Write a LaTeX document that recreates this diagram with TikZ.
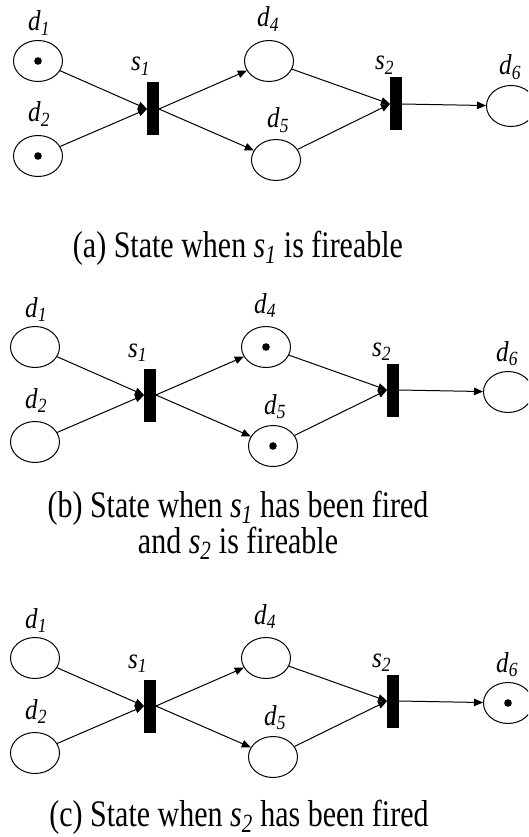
\documentclass[tikz,border=0pt]{standalone}
\usepackage{fontspec}
\setmainfont{Liberation Serif}
\usetikzlibrary{shapes.geometric,arrows.meta}
\tikzset{
 place/.style={ellipse, draw, line width=1pt, minimum width=49pt, minimum height=41pt, inner sep=0pt},
 trans/.style={rectangle, fill=black, minimum width=11.5pt, minimum height=53pt, inner sep=0pt},
 arc/.style={line width=1pt, -{Triangle[length=9pt,width=7.5pt]}},
 lbl/.style={anchor=base west, inner sep=0pt, font=\fontsize{25}{30}\selectfont},
 captext/.style={anchor=base, inner sep=0pt, font=\fontsize{30}{33}\selectfont},
}
\newcommand{\dlab}[1]{\scalebox{1}[1.15]{\textit{d}\textsubscript{\textit{#1}}}}
\newcommand{\slab}[1]{\textit{s}\textsubscript{\textit{#1}}}
\newcommand{\cslab}[1]{\textit{s}\smash{\textsubscript{\textit{#1}}}}
\newcommand{\stretchtext}[1]{\scalebox{1}[1.25]{#1}}
\newcommand{\PetriPanel}[1]{%
 \node[place] (#1d1) at (38,61) {};
 \node[place] (#1d2) at (38,156) {};
 \node[trans] (#1s1) at (153,109) {};
 \node[place] (#1d4) at (269,61) {};
 \node[place] (#1d5) at (276,160) {};
 \node[trans] (#1s2) at (396,104) {};
 \node[place] (#1d6) at (511,106) {};
 \node[lbl] (#1l1) at (28,31) {\dlab{1}};
 \node[lbl] (#1l2) at (28,122) {\dlab{2}};
 \node[lbl] (#1l3) at (131,71) {\scalebox{1}[1.15]{\slab{1}}};
 \node[lbl] (#1l4) at (257,27) {\dlab{4}};
 \node[lbl] (#1l5) at (267,128) {\dlab{5}};
 \node[lbl] (#1l6) at (375,70) {\scalebox{1}[1.15]{\slab{2}}};
 \node[lbl] (#1l7) at (499,75) {\dlab{6}};
 \draw[arc] (#1d1) -- (#1s1.west);
 \draw[arc] (#1d2) -- (#1s1.west);
 \draw[arc] (#1s1.east) -- (#1d4);
 \draw[arc] (#1s1.east) -- (#1d5);
 \draw[arc] (#1d4) -- (#1s2.west);
 \draw[arc] (#1d5) -- (#1s2.west);
 \draw[arc] (#1s2.east) -- (#1d6);
}
\begin{document}
\begin{tikzpicture}[x=1pt,y=-1pt]
\clip (0,0) rectangle (528,837);
\fill[white] (0,0) rectangle (528,837);
% panel (a)
\begin{scope}
 \PetriPanel{a}
 \fill (ad1) circle (3.8pt);
 \fill (ad2) circle (3.8pt);
\end{scope}
\node[captext] (capa) at (238,257) {\stretchtext{(a) State when \cslab{1} is fireable}};
% panel (b)
\begin{scope}[shift={(-3,286)}]
 \PetriPanel{b}
 \fill (bd4) circle (3.8pt);
 \fill (bd5) circle (3.8pt);
\end{scope}
\node[captext] (capb) at (238,517) {\stretchtext{\begin{tabular}[t]{@{}c@{}}(b) State when \cslab{1} has been fired\\[-4.2pt] and \cslab{2} is fireable\end{tabular}}};
% panel (c)
\begin{scope}[shift={(-3,597)}]
 \PetriPanel{c}
 \fill (cd6) circle (3.8pt);
\end{scope}
\node[captext] (capc) at (239,826) {\stretchtext{(c) State when \cslab{2} has been fired}};
\end{tikzpicture}
\end{document}
